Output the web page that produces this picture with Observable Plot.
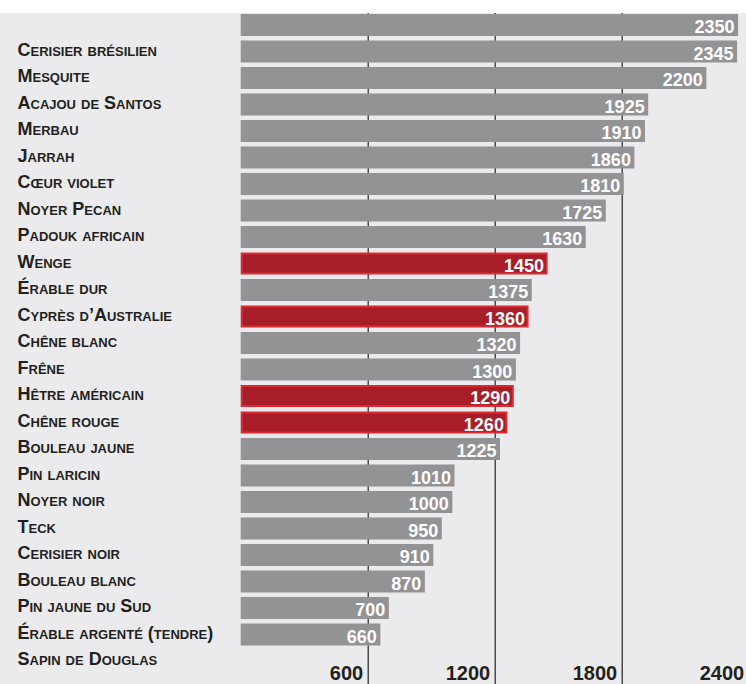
<!DOCTYPE html>
<html>
<head>
<meta charset="utf-8">
<script src="https://cdn.jsdelivr.net/npm/d3@7"></script>
<script src="https://cdn.jsdelivr.net/npm/@observablehq/plot@0.6"></script>
<style>
  html, body { margin: 0; padding: 0; background: #ffffff; }
  #top { height: 13px; background: #ffffff; }
  #chart svg { display: block; background: #ebebed; }
</style>
</head>
<body>
<div id="top"></div>
<div id="chart"></div>
<script>
// Row labels (row 0 has no visible label in the picture)
const labels = [
  "",
  "Cerisier brésilien",
  "Mesquite",
  "Acajou de Santos",
  "Merbau",
  "Jarrah",
  "Cœur violet",
  "Noyer Pecan",
  "Padouk africain",
  "Wenge",
  "Érable dur",
  "Cyprès d’Australie",
  "Chêne blanc",
  "Frêne",
  "Hêtre américain",
  "Chêne rouge",
  "Bouleau jaune",
  "Pin laricin",
  "Noyer noir",
  "Teck",
  "Cerisier noir",
  "Bouleau blanc",
  "Pin jaune du Sud",
  "Érable argenté (tendre)",
  "Sapin de Douglas"
];
// Bar values, by row from the top (last row has no bar)
const values = [2350, 2345, 2200, 1925, 1910, 1860, 1810, 1725, 1630, 1450, 1375, 1360,
  1320, 1300, 1290, 1260, 1225, 1010, 1000, 950, 910, 870, 700, 660];
const highlighted = ["Wenge", "Cyprès d’Australie", "Hêtre américain", "Chêne rouge"];
const xTicks = [600, 1200, 1800, 2400];

const rows = labels.map((label, i) => ({label, value: values[i], hl: highlighted.includes(label)}));
const bars = rows.filter(d => d.value != null);

const font = "'Liberation Sans', Arial, Helvetica, sans-serif";

const chart = Plot.plot({
  width: 746,
  height: 671,
  marginLeft: 0, marginRight: 0, marginTop: 0, marginBottom: 0,
  style: {fontFamily: font, background: "#ebebed"},
  x: {domain: [0, 2400], range: [240.7, 748.7], axis: null},
  y: {domain: labels, range: [-1.25, 661.25], paddingInner: 0.17, paddingOuter: 0.085, round: false, axis: null},
  marks: [
    Plot.ruleX(xTicks, {x: d => d, stroke: "#262324", strokeWidth: 1.2}),
    Plot.barX(bars.filter(d => !d.hl), {x1: 0, x2: "value", y: "label", fill: "#939396"}),
    Plot.barX(bars.filter(d => d.hl), {x1: 0, x2: "value", y: "label", fill: "#a71e28", stroke: "#dc2a32", strokeWidth: 2, inset: 1}),
    Plot.text(bars, {x: "value", y: "label", text: d => String(d.value), textAnchor: "end", dx: -4, dy: 2,
      fill: "#ffffff", fontSize: 18, fontWeight: "bold"}),
    Plot.text(rows.filter(d => d.label !== ""), {y: "label", text: "label", frameAnchor: "left", textAnchor: "start",
      dx: 17, dy: -2, fill: "#231f20", fontSize: 18, fontWeight: "bold", fontVariant: "small-caps"}),
    Plot.text(xTicks, {x: d => d, text: d => String(d), frameAnchor: "bottom", lineAnchor: "bottom",
      textAnchor: "end", dx: -5, dy: -5, fill: "#231f20", fontSize: 20, fontWeight: "bold"})
  ]
});
document.getElementById("chart").appendChild(chart);
</script>
</body>
</html>
